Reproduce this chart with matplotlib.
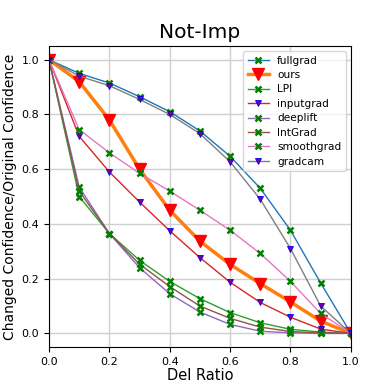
import numpy as np
import matplotlib
matplotlib.use("Agg")
import matplotlib.pyplot as plt

ratios = [0.0, 0.1, 0.2, 0.3, 0.4, 0.5, 0.6, 0.7, 0.8, 0.9, 1.0]

fullgrad = [1.0, 0.95, 0.915, 0.865, 0.81, 0.74, 0.647, 0.53, 0.377, 0.184, 0.0]
ours = [1.0, 0.92, 0.78, 0.60, 0.45, 0.337, 0.252, 0.182, 0.115, 0.045, 0.0]
lpi = [1.0, 0.50, 0.365, 0.267, 0.19, 0.127, 0.076, 0.039, 0.015, 0.005, 0.0]
inputgrad = [1.0, 0.72, 0.59, 0.48, 0.375, 0.277, 0.187, 0.113, 0.059, 0.016, 0.0]
deeplift = [1.0, 0.535, 0.365, 0.24, 0.145, 0.078, 0.033, 0.008, 0.002, 0.0, 0.0]
intgrad = [1.0, 0.52, 0.365, 0.253, 0.171, 0.10, 0.055, 0.023, 0.007, 0.002, 0.0]
smoothgrad = [1.0, 0.745, 0.66, 0.585, 0.52, 0.45, 0.377, 0.292, 0.19, 0.073, 0.0]
gradcam = [1.0, 0.94, 0.905, 0.855, 0.80, 0.73, 0.627, 0.49, 0.31, 0.10, 0.0]

fig = plt.figure(figsize=(3.9, 3.9), dpi=100)
ax = fig.add_axes([0.1256, 0.110, 0.774, 0.772])

x_kw = dict(marker='x', markeredgecolor='green', markerfacecolor='green',
            markersize=5, markeredgewidth=1.8, linewidth=1)
v_kw = dict(marker='v', markeredgecolor='blue', markerfacecolor='purple',
            markersize=4.5, markeredgewidth=0.6, linewidth=1)

ax.plot(ratios, fullgrad, color='tab:blue', label='fullgrad', **x_kw)
ax.plot(ratios, ours, color='tab:orange', label='ours', marker='v',
        markerfacecolor='red', markeredgecolor='red', markersize=8.5, linewidth=2.5)
ax.plot(ratios, lpi, color='tab:green', label='LPI', **x_kw)
ax.plot(ratios, inputgrad, color='tab:red', label='inputgrad', **v_kw)
ax.plot(ratios, deeplift, color='tab:purple', label='deeplift', **x_kw)
ax.plot(ratios, intgrad, color='tab:brown', label='IntGrad', **x_kw)
ax.plot(ratios, smoothgrad, color='tab:pink', label='smoothgrad', **x_kw)
ax.plot(ratios, gradcam, color='tab:gray', label='gradcam', **v_kw)

ax.set_xlim(0, 1)
ax.set_ylim(-0.05, 1.05)
ax.set_xticks([0.0, 0.2, 0.4, 0.6, 0.8, 1.0])
ax.set_yticks([0.0, 0.2, 0.4, 0.6, 0.8, 1.0])
ax.tick_params(labelsize=8)
ax.grid(True, color='#d0d0d0', linewidth=1)

ax.set_title('Not-Imp', fontsize=14.5)
ax.set_xlabel('Del Ratio', fontsize=10.5, labelpad=1)
ax.set_ylabel('Changed Confidence/Original Confidence', fontsize=10, labelpad=3)
ax.legend(loc='upper right', fontsize=7.6, handlelength=2, labelspacing=0.42,
          borderaxespad=0.5)

fig.savefig('out.png', dpi=100)
